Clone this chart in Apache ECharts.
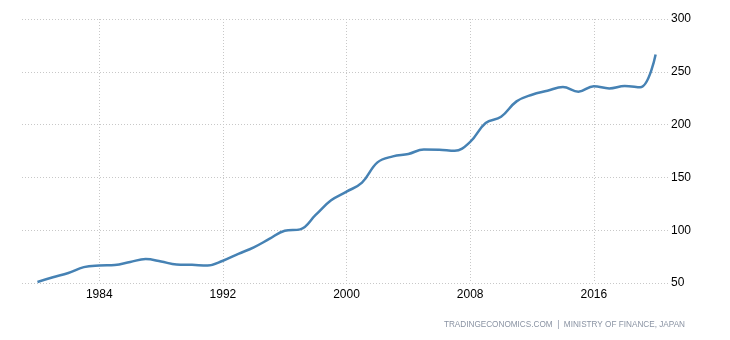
<!DOCTYPE html>
<html>
<head>
<meta charset="utf-8">
<script src="https://cdn.jsdelivr.net/npm/echarts@6/dist/echarts.min.js"></script>
<style>
  html, body { margin: 0; padding: 0; background: #ffffff; }
  #chart { width: 730px; height: 340px; }
</style>
</head>
<body>
<div id="chart"></div>
<script>
// Government debt to GDP, Japan (percent), yearly
const years = [1980, 1981, 1982, 1983, 1984, 1985, 1986, 1987, 1988, 1989,
               1990, 1991, 1992, 1993, 1994, 1995, 1996, 1997, 1998, 1999,
               2000, 2001, 2002, 2003, 2004, 2005, 2006, 2007, 2008, 2009,
               2010, 2011, 2012, 2013, 2014, 2015, 2016, 2017, 2018, 2019,
               2020];
const debtToGdp = [51.0, 55.4, 59.5, 65.0, 66.6, 67.0, 69.9, 72.7, 70.4, 67.5,
                   67.2, 66.6, 71.1, 77.6, 83.8, 91.7, 99.5, 100.8, 114.5, 128.3,
                   136.5, 145.0, 164.2, 169.9, 172.2, 176.4, 176.2, 175.2, 183.6, 201.5,
                   207.4, 222.0, 228.3, 232.0, 235.6, 231.2, 236.4, 234.3, 236.5, 235.3,
                   266.4];
const xTicks = [1984, 1992, 2000, 2008, 2016];
const sourceText = 'TRADINGECONOMICS.COM  |  MINISTRY OF FINANCE, JAPAN';

const chart = echarts.init(document.getElementById('chart'), null, { renderer: 'canvas' });

const gridLine = { show: true, lineStyle: { color: '#c8c8c8', type: [1, 2], width: 1 } };

chart.setOption({
  animation: false,
  backgroundColor: '#ffffff',
  grid: { left: 22, right: 62, top: 19, bottom: 57, containLabel: false },
  xAxis: {
    type: 'value',
    min: 1979,
    max: 2020.8,
    axisLine: { show: false },
    axisTick: { show: false, customValues: xTicks },
    splitLine: gridLine,
    axisLabel: {
      customValues: xTicks,
      color: '#000000',
      fontFamily: 'Liberation Sans, Arial, sans-serif',
      fontSize: 12,
      margin: 6,
      formatter: v => String(v)
    }
  },
  yAxis: {
    type: 'value',
    position: 'right',
    min: 50,
    max: 300,
    interval: 50,
    axisLine: { show: false },
    axisTick: { show: false },
    splitLine: gridLine,
    axisLabel: {
      color: '#000000',
      fontFamily: 'Liberation Sans, Arial, sans-serif',
      fontSize: 12,
      margin: 3
    }
  },
  series: [{
    type: 'line',
    data: years.map((y, i) => [y, debtToGdp[i]]),
    smooth: 0.4,
    showSymbol: false,
    lineStyle: { color: '#4682b4', width: 2.5 },
    itemStyle: { color: '#4682b4' }
  }],
  graphic: [{
    type: 'text',
    right: 45,
    top: 321,
    style: {
      text: sourceText,
      fill: '#8a93a3',
      font: '8.2px "Liberation Sans", Arial, sans-serif'
    }
  }]
});
</script>
</body>
</html>
